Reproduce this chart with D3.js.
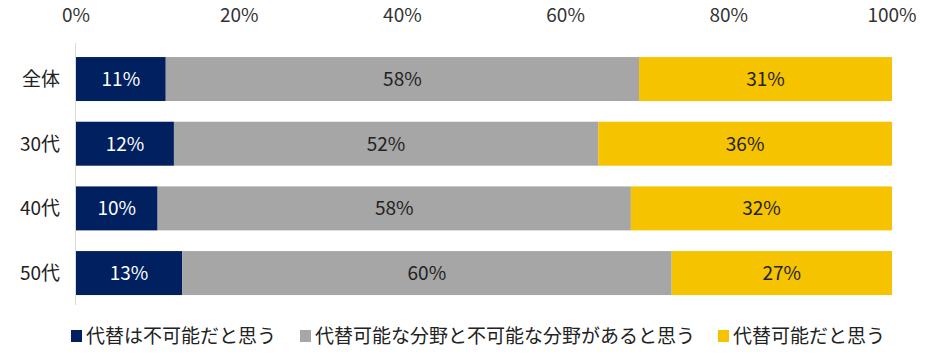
<!DOCTYPE html>
<html>
<head>
<meta charset="utf-8">
<script src="https://cdn.jsdelivr.net/npm/d3@7"></script>
<style>
  body { margin: 0; background: #fff; }
  text { font-family: "Noto Sans CJK JP", "Noto Sans", sans-serif; }
</style>
</head>
<body>
<div id="chart"></div>
<script>
// data
var categories = ["全体", "30代", "40代", "50代"];
var keys = ["impossible", "partly", "possible"];
var seriesNames = ["代替は不可能だと思う", "代替可能な分野と不可能な分野があると思う", "代替可能だと思う"];
var impossible = [11, 12, 10, 13];
var partly = [58, 52, 58, 60];
var possible = [31, 36, 32, 27];
var ticks = [0, 20, 40, 60, 80, 100];

var colors = ["#002060", "#A6A6A6", "#F5C300"];
var labelColors = ["#ffffff", "#222222", "#222222"];

var data = categories.map(function (c, i) {
  return { cat: c, impossible: impossible[i], partly: partly[i], possible: possible[i] };
});

var width = 928, height = 363;
var margin = { top: 46.7, right: 36, bottom: 57.6, left: 76 };

var svg = d3.select("#chart").append("svg")
  .attr("width", width)
  .attr("height", height);

var x = d3.scaleLinear().domain([0, 100]).range([margin.left, width - margin.right]);
var y = d3.scaleBand().domain(categories).range([margin.top, height - margin.bottom]).paddingInner(0.32).paddingOuter(0.16);
var z = d3.scaleOrdinal().domain(keys).range(colors);

var stack = d3.stack().keys(keys);
var layers = stack(data);

// top axis labels
svg.append("g")
  .selectAll("text")
  .data(ticks)
  .enter().append("text")
  .attr("x", function (d) { return x(d); })
  .attr("y", 15)
  .attr("dy", "0.36em")
  .attr("text-anchor", "middle")
  .style("font-size", "19px")
  .style("fill", "#333")
  .text(function (d) { return d + "%"; });

var layer = svg.selectAll(".layer")
  .data(layers)
  .enter().append("g")
  .attr("class", "layer")
  .attr("fill", function (d) { return z(d.key); });

layer.selectAll("rect")
  .data(function (d) { return d; })
  .enter().append("rect")
  .attr("x", function (d) { return x(d[0]); })
  .attr("y", function (d) { return y(d.data.cat); })
  .attr("width", function (d) { return x(d[1]) - x(d[0]); })
  .attr("height", y.bandwidth());

layer.selectAll("text")
  .data(function (d, i) { return d.map(function (e) { return { e: e, i: i }; }); })
  .enter().append("text")
  .attr("x", function (d) { return (x(d.e[0]) + x(d.e[1])) / 2; })
  .attr("y", function (d) { return y(d.e.data.cat) + y.bandwidth() / 2; })
  .attr("dy", "0.36em")
  .attr("text-anchor", "middle")
  .style("font-size", "19px")
  .style("fill", function (d) { return labelColors[d.i]; })
  .text(function (d) { return (d.e[1] - d.e[0]) + "%"; });

// vertical axis line
svg.append("line")
  .attr("x1", margin.left - 0.5).attr("x2", margin.left - 0.5)
  .attr("y1", 43).attr("y2", 305)
  .attr("stroke", "#d9d9d9")
  .attr("stroke-width", 1);

// category labels
svg.append("g")
  .selectAll("text")
  .data(categories)
  .enter().append("text")
  .attr("x", 60)
  .attr("y", function (d) { return y(d) + y.bandwidth() / 2; })
  .attr("dy", "0.36em")
  .attr("text-anchor", "end")
  .style("font-size", "19px")
  .style("fill", "#222")
  .text(function (d) { return d; });

// legend
var legendX = [71, 300, 718];
var legend = svg.append("g").selectAll("g")
  .data(seriesNames)
  .enter().append("g")
  .attr("transform", function (d, i) { return "translate(" + legendX[i] + ",336)"; });

legend.append("rect")
  .attr("x", 0).attr("y", -6)
  .attr("width", 11).attr("height", 12)
  .attr("fill", function (d, i) { return colors[i]; });

legend.append("text")
  .attr("x", 15)
  .attr("y", 0)
  .attr("dy", "0.36em")
  .style("font-size", "19px")
  .style("fill", "#222")
  .text(function (d) { return d; });
</script>
</body>
</html>
